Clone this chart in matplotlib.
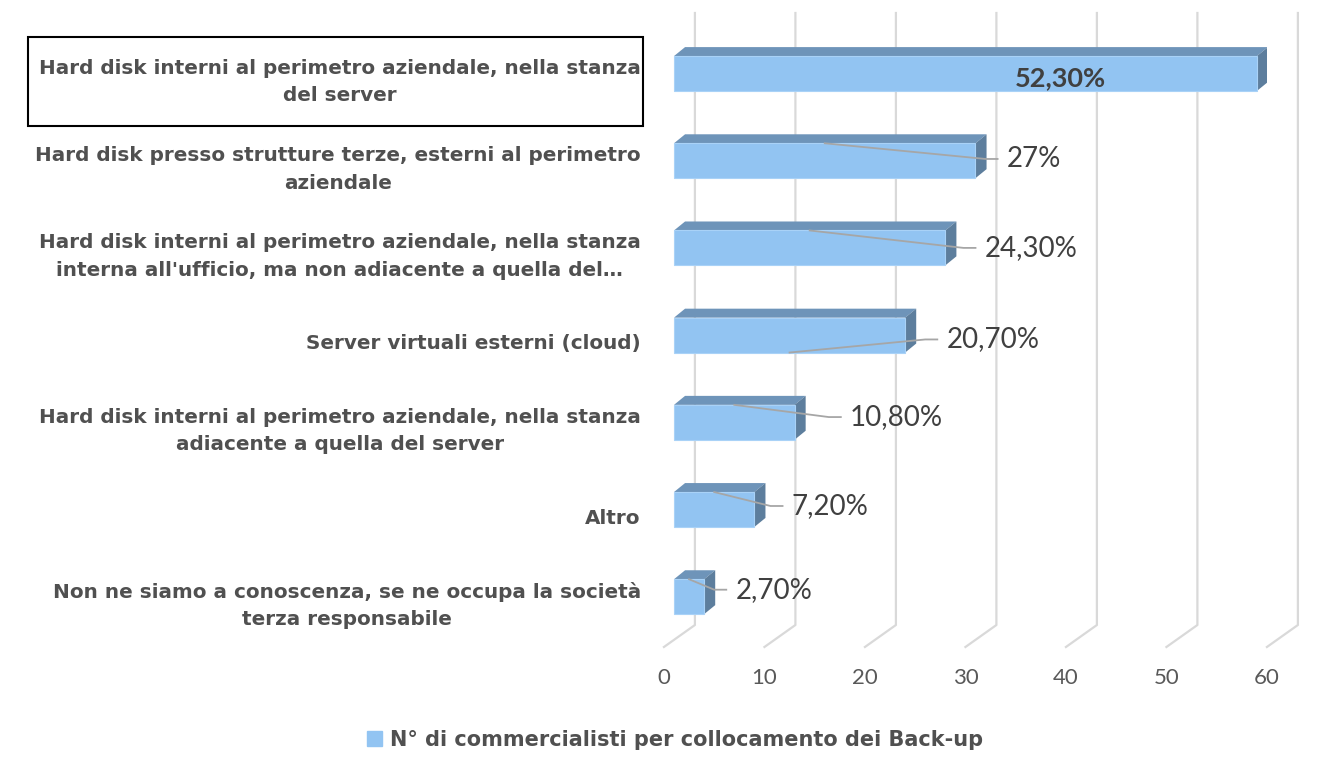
import matplotlib.pyplot as plt
from matplotlib.patches import Polygon, Rectangle, Patch

# Back-up location survey: number of accountants per answer
categories = [
    "Hard disk interni al perimetro aziendale, nella stanza\ndel server",
    "Hard disk presso strutture terze, esterni al perimetro\naziendale",
    "Hard disk interni al perimetro aziendale, nella stanza\ninterna all'ufficio, ma non adiacente a quella del\u2026",
    "Server virtuali esterni (cloud)",
    "Hard disk interni al perimetro aziendale, nella stanza\nadiacente a quella del server",
    "Altro",
    "Non ne siamo a conoscenza, se ne occupa la società\nterza responsabile",
]
counts = [58, 30, 27, 23, 12, 8, 3]
total = 111
series_name = "N° di commercialisti per collocamento dei Back-up"
ticks = [0, 10, 20, 30, 40, 50, 60]

# where each value label sits, relative to the end of its bar
label_dx = [-24.1, 3.1, 3.9, 4.1, 5.5, 3.7, 3.1]
label_dy = [0.05, -0.02, 0.0, 0.05, -0.06, -0.04, -0.08]

FRONT = '#92C4F2'
TOP = '#6E94B9'
SIDE = '#5D7E9D'
GRID = '#D9D9D9'
TXT = '#404040'
CAT = '#505050'

# fake 3D geometry (x in data units, y in category units)
WALL_DX, WALL_DY = 3.08, 0.252     # depth of the back wall
X0 = 1.0                           # bars start a bit behind the front plane
HALF = 0.2                         # half height of bar front face
BAR_DX, BAR_DY = 1.1, 0.103        # bar depth

fig = plt.figure(figsize=(13.37, 7.74), dpi=100)
ax = fig.add_axes([0.4966, 0.1641, 0.4510, 0.8191])
ax.set_xlim(0, 60)
ax.set_ylim(6.577, -0.694)
ax.axis('off')

# gridlines: vertical on the back wall, diagonal on the floor
y_top = -0.694
y_back = 6.577 - WALL_DY
for t in ticks:
    ax.plot([t + WALL_DX, t + WALL_DX, t], [y_top, y_back, 6.577],
            color=GRID, lw=1.6, clip_on=False, zorder=1)
    ax.text(t, 6.577 + 0.36, str(t), ha='center', va='center',
            fontsize=16, family='Lato', color='#595959')

for i, v in enumerate(counts):
    y1, y2 = i - HALF, i + HALF
    x1 = X0 + v
    ax.add_patch(Polygon([(X0, y1), (x1, y1), (x1 + BAR_DX, y1 - BAR_DY),
                          (X0 + BAR_DX, y1 - BAR_DY)], closed=True,
                         fc=TOP, ec='none', zorder=3))
    ax.add_patch(Polygon([(x1, y1), (x1 + BAR_DX, y1 - BAR_DY),
                          (x1 + BAR_DX, y2 - BAR_DY), (x1, y2)], closed=True,
                         fc=SIDE, ec='none', zorder=3))
    ax.add_patch(Rectangle((X0, y1), v, 2 * HALF, fc=FRONT, ec='#A9D2F7',
                           lw=0.8, zorder=4))

    pct = round(v / total * 100, 1)
    if pct == int(pct):
        lab = '%d%%' % pct
    else:
        lab = ('%.2f%%' % pct).replace('.', ',')
    lx = x1 + label_dx[i]
    ly = i + label_dy[i]
    if i == 0:
        ax.text(lx, ly, lab, ha='left', va='center', fontsize=19.5,
                family='Lato', fontweight='bold', color=TXT, zorder=6)
    else:
        sy = y2 if i == 3 else y1
        ax.plot([X0 + v / 2, lx - 2.1, lx - 0.9], [sy, ly, ly],
                color='#A6A6A6', lw=1.3, zorder=5, clip_on=False)
        ax.text(lx, ly, lab, ha='left', va='center', fontsize=20,
                family='Lato', color=TXT, zorder=6)

    ax.text(-2.3, i + 0.1, categories[i], ha='right', va='center',
            multialignment='center', fontsize=14.4, family='DejaVu Sans',
            fontweight='bold', color=CAT, linespacing=1.55)

# frame around the first category label
ax.add_patch(Rectangle((-63.3, -0.419), 61.2, 1.021, fill=False, ec='black',
                       lw=1.5, clip_on=False, zorder=5))

fig.legend(handles=[Patch(color=FRONT)], labels=[series_name], loc='center',
           bbox_to_anchor=(0.505, 0.044), frameon=False, handlelength=0.7,
           handleheight=0.7, handletextpad=0.4,
           prop={'family': 'DejaVu Sans', 'weight': 'bold', 'size': 15})
for t in fig.legends[0].get_texts():
    t.set_color(CAT)

fig.savefig('out.png', dpi=100)
